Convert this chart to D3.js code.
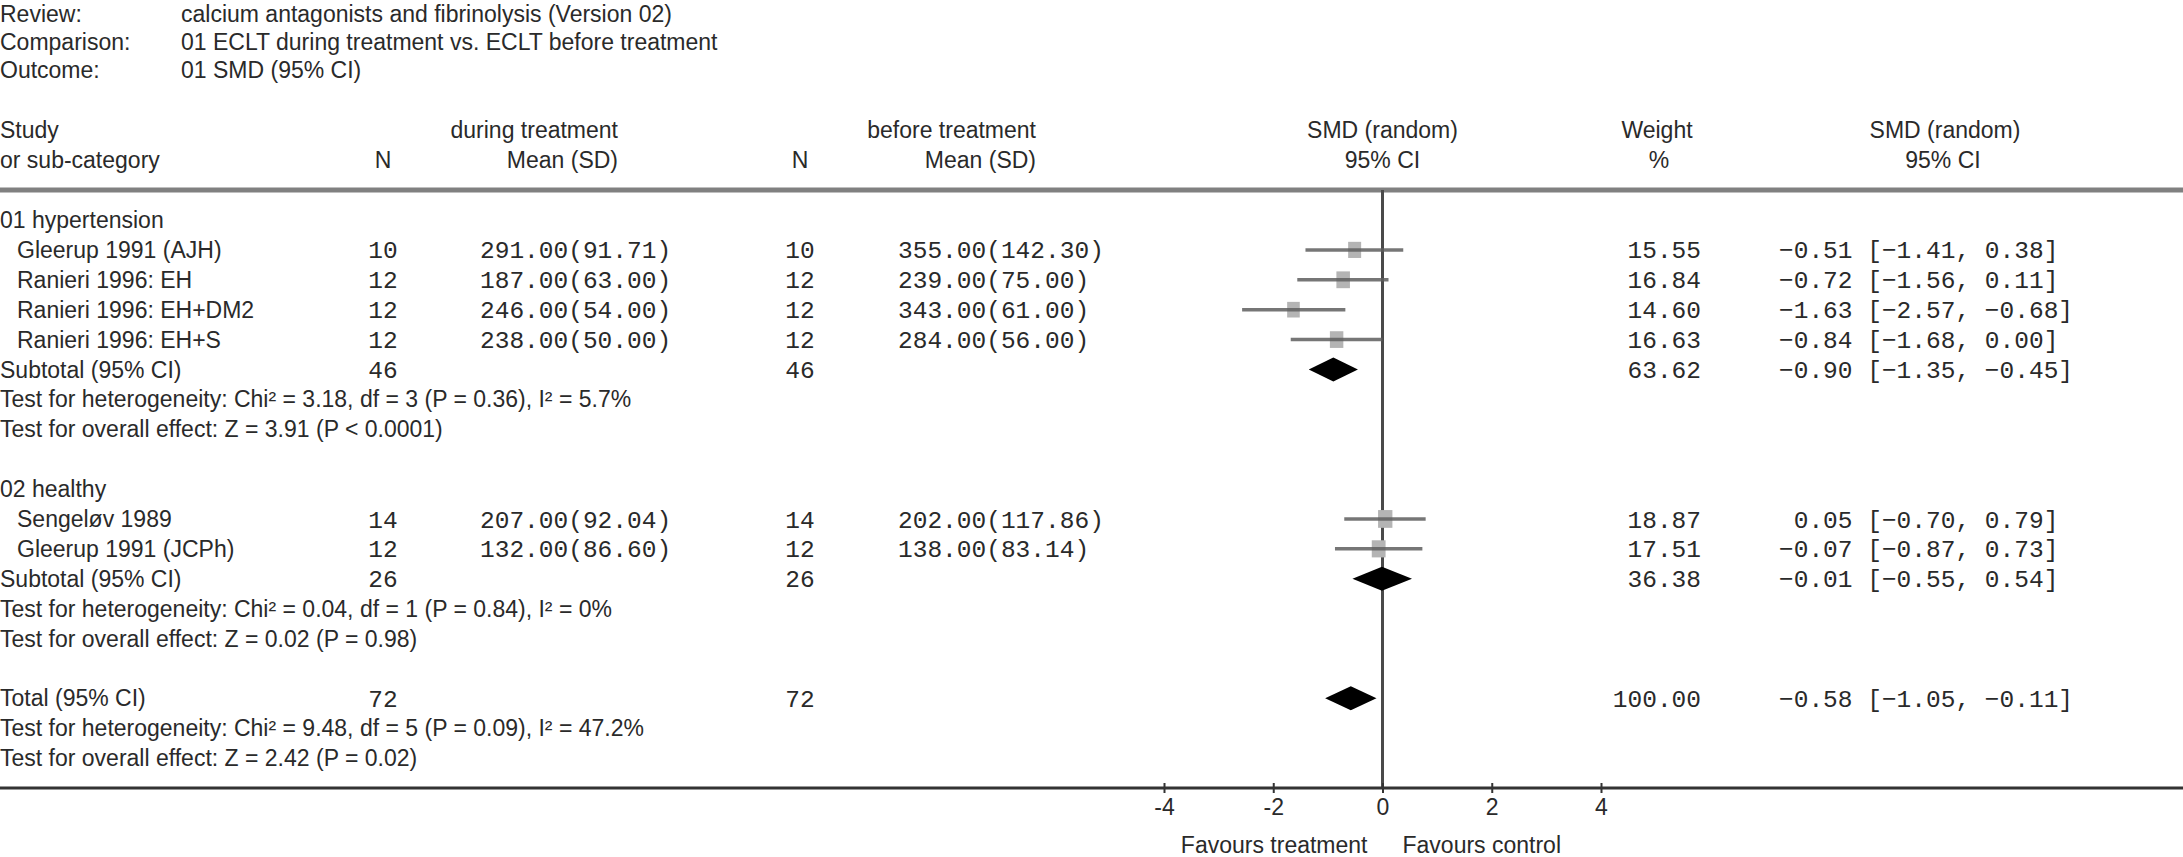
<!DOCTYPE html>
<html>
<head>
<meta charset="utf-8">
<script src="https://cdn.jsdelivr.net/npm/d3@7"></script>
<style>
  body { margin: 0; background: #fff; }
  text { fill: #2a2a2a; }
  .sans { font-family: "Liberation Sans", Arial, sans-serif; font-size: 23px; }
  .mono { font-family: "Liberation Mono", "Courier New", monospace; font-size: 24.5px; white-space: pre; }
</style>
</head>
<body>
<script>
// review header
const metaLabels = ['Review:', 'Comparison:', 'Outcome:']
const metaValues = ['calcium antagonists and fibrinolysis (Version 02)',
  '01 ECLT during treatment vs. ECLT before treatment',
  '01 SMD (95% CI)']

// studies
const studies = ['Gleerup 1991 (AJH)', 'Ranieri 1996: EH', 'Ranieri 1996: EH+DM2',
  'Ranieri 1996: EH+S', 'Sengeløv 1989', 'Gleerup 1991 (JCPh)']
const studyGroup = [0, 0, 0, 0, 1, 1]
const nTreat = [10, 12, 12, 12, 14, 12]
const meanTreat = [291.00, 187.00, 246.00, 238.00, 207.00, 132.00]
const sdTreat = [91.71, 63.00, 54.00, 50.00, 92.04, 86.60]
const nCtrl = [10, 12, 12, 12, 14, 12]
const meanCtrl = [355.00, 239.00, 343.00, 284.00, 202.00, 138.00]
const sdCtrl = [142.30, 75.00, 61.00, 56.00, 117.86, 83.14]
const smd = [-0.51, -0.72, -1.63, -0.84, 0.05, -0.07]
const smdLo = [-1.41, -1.56, -2.57, -1.68, -0.70, -0.87]
const smdHi = [0.38, 0.11, -0.68, 0.00, 0.79, 0.73]
const weight = [15.55, 16.84, 14.60, 16.63, 18.87, 17.51]

// subgroups
const groups = ['01 hypertension', '02 healthy']
const groupNTreat = [46, 26]
const groupNCtrl = [46, 26]
const groupSmd = [-0.90, -0.01]
const groupLo = [-1.35, -0.55]
const groupHi = [-0.45, 0.54]
const groupWeight = [63.62, 36.38]
const groupHet = ['Test for heterogeneity: Chi² = 3.18, df = 3 (P = 0.36), I² = 5.7%',
  'Test for heterogeneity: Chi² = 0.04, df = 1 (P = 0.84), I² = 0%']
const groupEffect = ['Test for overall effect: Z = 3.91 (P < 0.0001)',
  'Test for overall effect: Z = 0.02 (P = 0.98)']

// overall
const totalNTreat = 72
const totalNCtrl = 72
const totalSmd = -0.58
const totalLo = -1.05
const totalHi = -0.11
const totalWeight = 100.00
const totalHet = 'Test for heterogeneity: Chi² = 9.48, df = 5 (P = 0.09), I² = 47.2%'
const totalEffect = 'Test for overall effect: Z = 2.42 (P = 0.02)'

const tickValues = [-4, -2, 0, 2, 4]
const favours = ['Favours treatment', 'Favours control']

// measurements
let m = {
  width: 2183,
  height: 857,
  indent: 17,
  nTreatX: 383,
  meanTreatX: 480,
  nCtrlX: 800,
  meanCtrlX: 898,
  weightX: 1701,
  ciX: 1779,
  half: 12,
}

let svg = d3.select('body')
  .append('svg')
  .attr('width', m.width)
  .attr('height', m.height)

let x = d3.scaleLinear().domain([-4, 4]).range([1164, 1601])
let y = d3.scaleLinear().domain([0, 19]).range([220, 788])

let f2 = d3.format('.2f')
function ciText(est, lo, hi) {
  return f2(est).padStart(5, ' ') + ' [' + f2(lo) + ', ' + f2(hi) + ']'
}

function text(cls, tx, ty, str, anchor) {
  return svg.append('text')
    .attr('class', cls)
    .attr('x', tx)
    .attr('y', ty)
    .attr('dy', '0.35em')
    .attr('text-anchor', anchor || 'start')
    .attr('xml:space', 'preserve')
    .text(str)
}

// meta lines
metaLabels.forEach(function(d, i) {
  text('sans', 0, 14 + i * 28, d)
  text('sans', 181, 14 + i * 28, metaValues[i])
})

// column headers
let h1 = y(-3), h2 = y(-2)
text('sans', 0, h1, 'Study')
text('sans', 0, h2, 'or sub-category')
text('sans', 618, h1, 'during treatment', 'end')
text('sans', m.nTreatX, h2, 'N', 'middle')
text('sans', 618, h2, 'Mean (SD)', 'end')
text('sans', 1036, h1, 'before treatment', 'end')
text('sans', m.nCtrlX, h2, 'N', 'middle')
text('sans', 1036, h2, 'Mean (SD)', 'end')
text('sans', x(0), h1, 'SMD (random)', 'middle')
text('sans', x(0), h2, '95% CI', 'middle')
text('sans', 1657, h1, 'Weight', 'middle')
text('sans', 1659, h2, '%', 'middle')
text('sans', 1945, h1, 'SMD (random)', 'middle')
text('sans', 1943, h2, '95% CI', 'middle')

// header rule
svg.append('line')
  .attr('x1', 0).attr('x2', m.width)
  .attr('y1', y(-1)).attr('y2', y(-1))
  .attr('stroke', '#808080')
  .attr('stroke-width', 5)

// build row list
let rows = []
groups.forEach(function(g, gi) {
  rows.push({ type: 'group', label: g })
  studies.forEach(function(s, i) {
    if (studyGroup[i] == gi) rows.push({ type: 'study', i: i })
  })
  rows.push({ type: 'sub', label: 'Subtotal (95% CI)', nT: groupNTreat[gi], nC: groupNCtrl[gi],
    est: groupSmd[gi], lo: groupLo[gi], hi: groupHi[gi], w: groupWeight[gi] })
  rows.push({ type: 'note', label: groupHet[gi] })
  rows.push({ type: 'note', label: groupEffect[gi] })
  rows.push({ type: 'blank' })
})
rows.push({ type: 'sub', label: 'Total (95% CI)', nT: totalNTreat, nC: totalNCtrl,
  est: totalSmd, lo: totalLo, hi: totalHi, w: totalWeight })
rows.push({ type: 'note', label: totalHet })
rows.push({ type: 'note', label: totalEffect })

// zero line
svg.append('line')
  .attr('x1', x(0)).attr('x2', x(0))
  .attr('y1', y(-1)).attr('y2', y(19))
  .attr('stroke', '#4a4a4a')
  .attr('stroke-width', 3)

rows.forEach(function(r, k) {
  let ry = y(k)
  if (r.type == 'group' || r.type == 'note') {
    text('sans', 0, ry, r.label)
  } else if (r.type == 'study') {
    let i = r.i
    text('sans', m.indent, ry, studies[i])
    text('mono', m.nTreatX, ry, nTreat[i], 'middle')
    text('mono', m.meanTreatX, ry, f2(meanTreat[i]) + '(' + f2(sdTreat[i]) + ')')
    text('mono', m.nCtrlX, ry, nCtrl[i], 'middle')
    text('mono', m.meanCtrlX, ry, f2(meanCtrl[i]) + '(' + f2(sdCtrl[i]) + ')')
    text('mono', m.weightX, ry, f2(weight[i]), 'end')
    text('mono', m.ciX, ry, ciText(smd[i], smdLo[i], smdHi[i]))

    // square sized by weight, then the CI line
    let s = Math.sqrt(weight[i]) * 3.3
    svg.append('rect')
      .attr('x', x(smd[i]) - s / 2)
      .attr('y', ry - s * 0.62)
      .attr('width', s)
      .attr('height', s * 1.24)
      .attr('fill', '#b4b4b4')
    svg.append('line')
      .attr('x1', x(smdLo[i])).attr('x2', x(smdHi[i]))
      .attr('y1', ry).attr('y2', ry)
      .attr('stroke', '#5e5e5e')
      .attr('stroke-opacity', 0.85)
      .attr('stroke-width', 3.5)
  } else if (r.type == 'sub') {
    text('sans', 0, ry, r.label)
    text('mono', m.nTreatX, ry, r.nT, 'middle')
    text('mono', m.nCtrlX, ry, r.nC, 'middle')
    text('mono', m.weightX, ry, f2(r.w), 'end')
    text('mono', m.ciX, ry, ciText(r.est, r.lo, r.hi))
    let pts = [[x(r.lo), ry], [x(r.est), ry - m.half], [x(r.hi), ry], [x(r.est), ry + m.half]]
    svg.append('path')
      .attr('d', d3.line()(pts) + 'Z')
      .attr('fill', '#000')
  }
})

// bottom rule and axis
let axisY = y(19)
svg.append('line')
  .attr('x1', 0).attr('x2', m.width)
  .attr('y1', axisY).attr('y2', axisY)
  .attr('stroke', '#333')
  .attr('stroke-width', 3)

let axis = svg.append('g')
  .attr('transform', 'translate(0,' + axisY + ')')
  .call(d3.axisBottom(x).tickValues(tickValues).tickFormat(d3.format('d')))
axis.select('.domain').remove()
axis.selectAll('.tick line')
  .attr('y1', -5).attr('y2', 5)
  .attr('stroke', '#333')
  .attr('stroke-width', 2)
axis.selectAll('.tick text')
  .attr('class', 'sans')
  .attr('y', 19)
  .attr('dy', '0.35em')
  .attr('fill', '#2a2a2a')
  .text(function(d) { return d < 0 ? '-' + Math.abs(d) : d })

text('sans', x(0) - 15, axisY + 57, favours[0], 'end')
text('sans', x(0) + 20, axisY + 57, favours[1])
</script>
</body>
</html>
